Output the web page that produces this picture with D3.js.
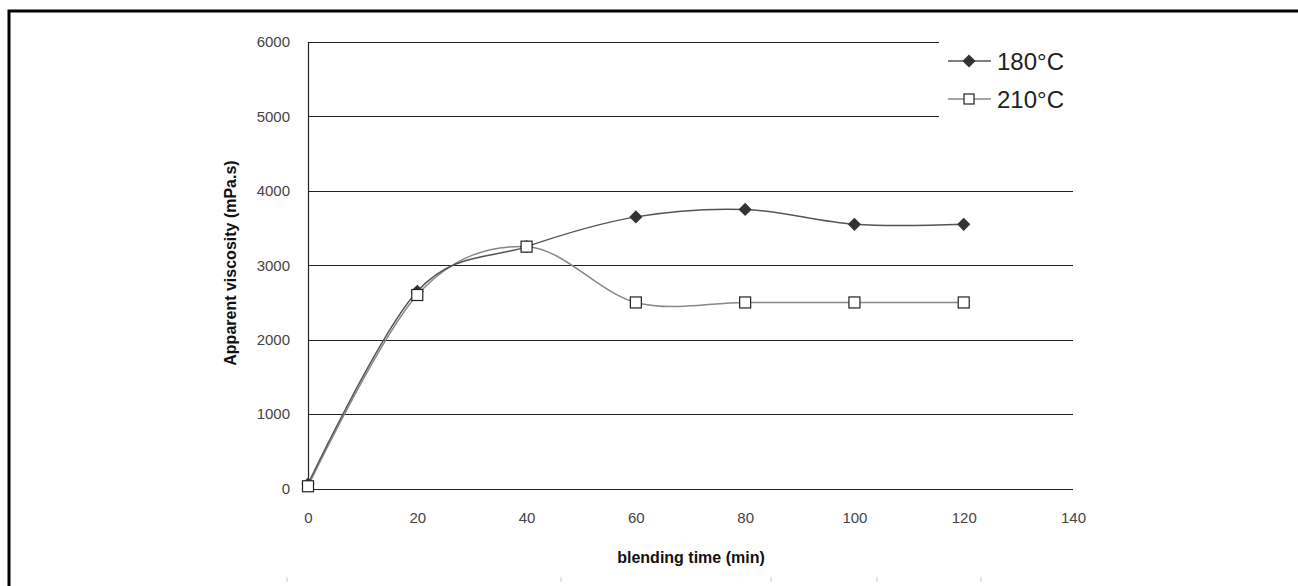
<!DOCTYPE html>
<html>
  <head>
    <meta charset="utf-8">
    <title>Apparent viscosity vs blending time</title>
    <script src="https://cdn.jsdelivr.net/npm/d3@7"></script>
    <style>
      body { margin: 0; background: #fff; }
      svg { display: block; font-family: Arial, "Liberation Sans", sans-serif; }
      .tick text { fill: #444; font-size: 15px; }
    </style>
  </head>
  <body>
    <svg id="chart" width="1298" height="586"></svg>

    <script>
      // data
      times = [0, 20, 40, 60, 80, 100, 120];
      visc180 = [60, 2650, 3250, 3650, 3750, 3550, 3550];
      visc210 = [30, 2600, 3250, 2500, 2500, 2500, 2500];
      seriesNames = ["180°C", "210°C"];
      xTicks = [0, 20, 40, 60, 80, 100, 120, 140];
      yTicks = [0, 1000, 2000, 3000, 4000, 5000, 6000];

      svg = d3.select("#chart");

      // outer frame
      svg.append("path")
        .attr("d", "M9,586V11H1298")
        .attr("fill", "none")
        .attr("stroke", "#000")
        .attr("stroke-width", 3);

      // scales
      x = d3.scaleLinear().domain([0, 140]).range([308, 1073]);
      y = d3.scaleLinear().domain([0, 6000]).range([488.5, 42]);

      // gridlines
      svg.append("g")
        .selectAll("line")
        .data(yTicks)
        .enter().append("line")
          .attr("x1", x(0))
          .attr("x2", x(140))
          .attr("y1", function(d) { return Math.round(y(d)) + 0.5; })
          .attr("y2", function(d) { return Math.round(y(d)) + 0.5; })
          .attr("stroke", "#222")
          .attr("stroke-width", 1.2);

      // y axis line
      svg.append("line")
        .attr("x1", x(0) + 0.5).attr("x2", x(0) + 0.5)
        .attr("y1", y(6000)).attr("y2", y(0))
        .attr("stroke", "#222")
        .attr("stroke-width", 1.2);

      // axis labels (no tick marks)
      yAxis = d3.axisLeft(y).tickValues(yTicks).tickSize(0).tickPadding(18).tickFormat(d3.format("d"));
      svg.append("g")
        .attr("transform", "translate(" + x(0) + ",0)")
        .call(yAxis)
        .call(function(g) { g.select(".domain").remove(); });

      xAxis = d3.axisBottom(x).tickValues(xTicks).tickSize(0).tickPadding(24).tickFormat(d3.format("d"));
      svg.append("g")
        .attr("transform", "translate(0," + y(0) + ")")
        .call(xAxis)
        .call(function(g) { g.select(".domain").remove(); });

      // axis titles
      svg.append("text")
        .attr("x", 691).attr("y", 563)
        .attr("text-anchor", "middle")
        .attr("font-size", 16).attr("font-weight", "bold")
        .attr("fill", "#111")
        .text("blending time (min)");
      svg.append("text")
        .attr("transform", "translate(236,263) rotate(-90)")
        .attr("text-anchor", "middle")
        .attr("font-size", 16).attr("font-weight", "bold")
        .attr("fill", "#111")
        .text("Apparent viscosity (mPa.s)");

      // lines
      line = d3.line()
        .x(function(d) { return x(d[0]); })
        .y(function(d) { return y(d[1]); })
        .curve(d3.curveCatmullRom.alpha(0));

      data180 = d3.zip(times, visc180);
      data210 = d3.zip(times, visc210);

      svg.append("path")
        .attr("d", line(data210))
        .attr("fill", "none")
        .attr("stroke", "#888")
        .attr("stroke-width", 1.5);
      svg.append("path")
        .attr("d", line(data180))
        .attr("fill", "none")
        .attr("stroke", "#555")
        .attr("stroke-width", 1.5);

      diamond = d3.symbol().type(d3.symbolDiamond2).size(110);

      svg.append("g")
        .selectAll("path")
        .data(data180)
        .enter().append("path")
          .attr("transform", function(d) { return "translate(" + x(d[0]) + "," + y(d[1]) + ")"; })
          .attr("d", diamond)
          .attr("fill", "#333");

      svg.append("g")
        .selectAll("rect")
        .data(data210)
        .enter().append("rect")
          .attr("x", function(d) { return x(d[0]) - 5.5; })
          .attr("y", function(d) { return y(d[1]) - 5.5; })
          .attr("width", 11).attr("height", 11)
          .attr("fill", "#fff")
          .attr("stroke", "#222")
          .attr("stroke-width", 1.2);

      // legend
      legend = svg.append("g");
      legend.append("rect")
        .attr("x", 939).attr("y", 35)
        .attr("width", 140).attr("height", 90)
        .attr("fill", "#fff");

      legendRows = legend.selectAll("g")
        .data(seriesNames)
        .enter().append("g")
          .attr("transform", function(d, i) { return "translate(0," + (61 + i * 38) + ")"; });
      legendRows.append("line")
        .attr("x1", 948).attr("x2", 991)
        .attr("stroke", function(d, i) { return i ? "#888" : "#555"; })
        .attr("stroke-width", 1.3);
      legendRows.filter(function(d, i) { return i == 0; })
        .append("path")
          .attr("transform", "translate(969,0)")
          .attr("d", diamond)
          .attr("fill", "#333");
      legendRows.filter(function(d, i) { return i == 1; })
        .append("rect")
          .attr("x", 964).attr("y", -5)
          .attr("width", 10).attr("height", 10)
          .attr("fill", "#fff")
          .attr("stroke", "#222")
          .attr("stroke-width", 1.2);
      legendRows.append("text")
        .attr("x", 997).attr("y", 9)
        .attr("font-size", 24)
        .attr("fill", "#222")
        .text(function(d) { return d; });

      // faint marks at bottom edge
      svg.append("g")
        .selectAll("line")
        .data([287, 561, 771, 877, 981])
        .enter().append("line")
          .attr("x1", function(d) { return d; })
          .attr("x2", function(d) { return d; })
          .attr("y1", 577).attr("y2", 582)
          .attr("stroke", "#ccc");
    </script>
  </body>
</html>
